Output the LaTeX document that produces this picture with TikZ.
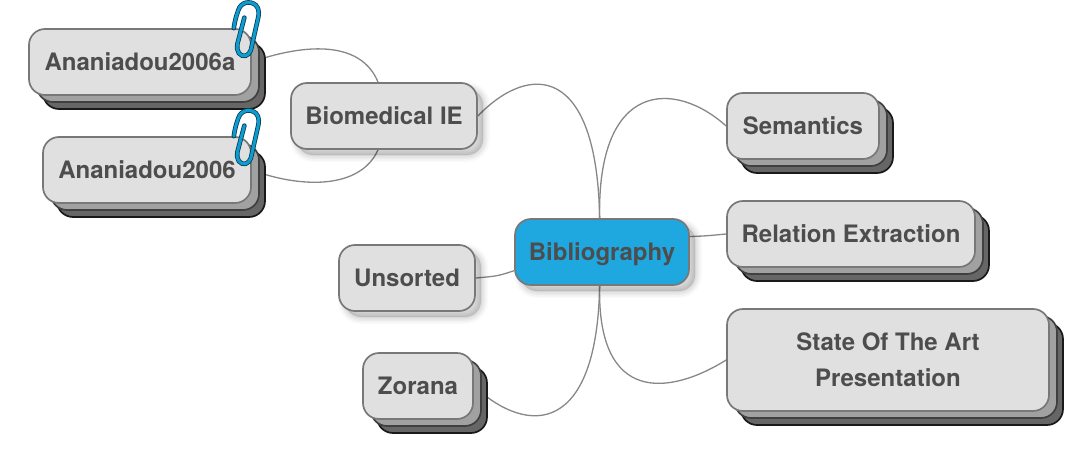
\documentclass[tikz,border=0pt]{standalone}
\usepackage{fontspec}
\setmainfont{TeX Gyre Heros}
\usetikzlibrary{shadows,backgrounds}
\definecolor{topicfill}{HTML}{E0E0E0}
\definecolor{topicline}{HTML}{787878}
\definecolor{topictext}{HTML}{4D4D4D}
\definecolor{rootfill}{HTML}{1FA7E0}
\definecolor{clipblue}{HTML}{0E9BD0}
\tikzset{
	topic/.style={draw=topicline, fill=topicfill, line width=1.7pt, rounded corners=16pt, text=topictext,
		font=\fontsize{24}{36}\selectfont\bfseries, align=center, inner sep=0pt, minimum height=66pt,
		text height=17pt, text depth=0pt},
	softshadow/.style={
		general shadow={shadow xshift=6pt, shadow yshift=-6pt, fill=black, draw=black, line width=14pt, opacity=.02},
		general shadow={shadow xshift=6pt, shadow yshift=-6pt, fill=black, draw=black, line width=11pt, opacity=.025},
		general shadow={shadow xshift=6pt, shadow yshift=-6pt, fill=black, draw=black, line width=8pt, opacity=.03},
		general shadow={shadow xshift=6pt, shadow yshift=-6pt, fill=black, draw=black, line width=5pt, opacity=.035},
		general shadow={shadow xshift=6pt, shadow yshift=-6pt, fill=black, draw=black, line width=2pt, opacity=.04}},
	stacked/.style={
		general shadow={shadow xshift=14pt, shadow yshift=-14pt, fill=black!60, draw=black!90},
		general shadow={shadow xshift=8pt, shadow yshift=-7pt, fill=black!37, draw=black!75}},
	link/.style={draw=black!47, line width=1.3pt},
	paperclip/.pic={
		\draw[line width=4.6pt, black!60!clipblue, line cap=round] (-18,0) .. controls (-17,-8) and (-15,-14) .. (-13.5,-18) .. controls (-11,-26) and (-2,-28) .. (4,-23) .. controls (8,-19) and (7,-13) .. (6,-9) -- (-1,22) .. controls (-3,28) and (-9,30) .. (-13,25) .. controls (-15,22) and (-15,19) .. (-14.5,16) -- (-7.5,-10.5);
		\draw[line width=3pt, clipblue, line cap=round] (-18,0) .. controls (-17,-8) and (-15,-14) .. (-13.5,-18) .. controls (-11,-26) and (-2,-28) .. (4,-23) .. controls (8,-19) and (7,-13) .. (6,-9) -- (-1,22) .. controls (-3,28) and (-9,30) .. (-13,25) .. controls (-15,22) and (-15,19) .. (-14.5,16) -- (-7.5,-10.5);
	}
}
\begin{document}
\begin{tikzpicture}[x=1pt, y=-1pt]
	\useasboundingbox (0,0) rectangle (1080,450);
	%nodes
	\node[topic, stacked, minimum width=222pt] (ananiadoua) at (140,62)  {Ananiadou2006a};
	\node[topic, stacked, minimum width=208pt] (ananiadou)  at (147,170) {Ananiadou2006};
	\node[topic, softshadow, minimum width=186pt] (biomedical) at (384,116) {Biomedical IE};
	\node[topic, softshadow, fill=rootfill, minimum width=174pt] (bibliography) at (602,252) {Bibliography};
	\node[topic, softshadow, minimum width=136pt] (unsorted) at (407,278) {Unsorted};
	\node[topic, stacked, minimum width=110pt] (zorana) at (418,386) {Zorana};
	\node[topic, stacked, minimum width=152pt] (semantics) at (803,126) {Semantics};
	\node[topic, stacked, minimum width=248pt] (relation) at (851,234) {Relation Extraction};
	\node[topic, stacked, minimum width=322pt, minimum height=102pt, text height=, text depth=] (state) at (888,360) {State Of The Art\\Presentation};
	%clips
	\pic at (ananiadoua.north east) {paperclip};
	\pic at (ananiadou.north east) {paperclip};
	%links
	\begin{scope}[on background layer]
		\draw[link] (bibliography.94) .. controls (597,65) and (530,62) .. (biomedical.east);
		\draw[link] (bibliography.94) .. controls (597,80) and (675,80) .. (semantics.west);
		\draw[link] (bibliography.10) .. controls (705,236) .. (relation.west);
		\draw[link] (bibliography.266) .. controls (597,405) and (670,395) .. (state.west);
		\draw[link] (bibliography.266) .. controls (597,432) and (530,438) .. (zorana.east);
		\draw[link] (bibliography.192) .. controls (498,276) .. (unsorted.east);
		\draw[link] (biomedical.100) .. controls (360,38) and (300,45) .. (ananiadoua.east);
		\draw[link] (biomedical.260) .. controls (360,190) and (300,188) .. (ananiadou.east);
	\end{scope}
\end{tikzpicture}
\end{document}
